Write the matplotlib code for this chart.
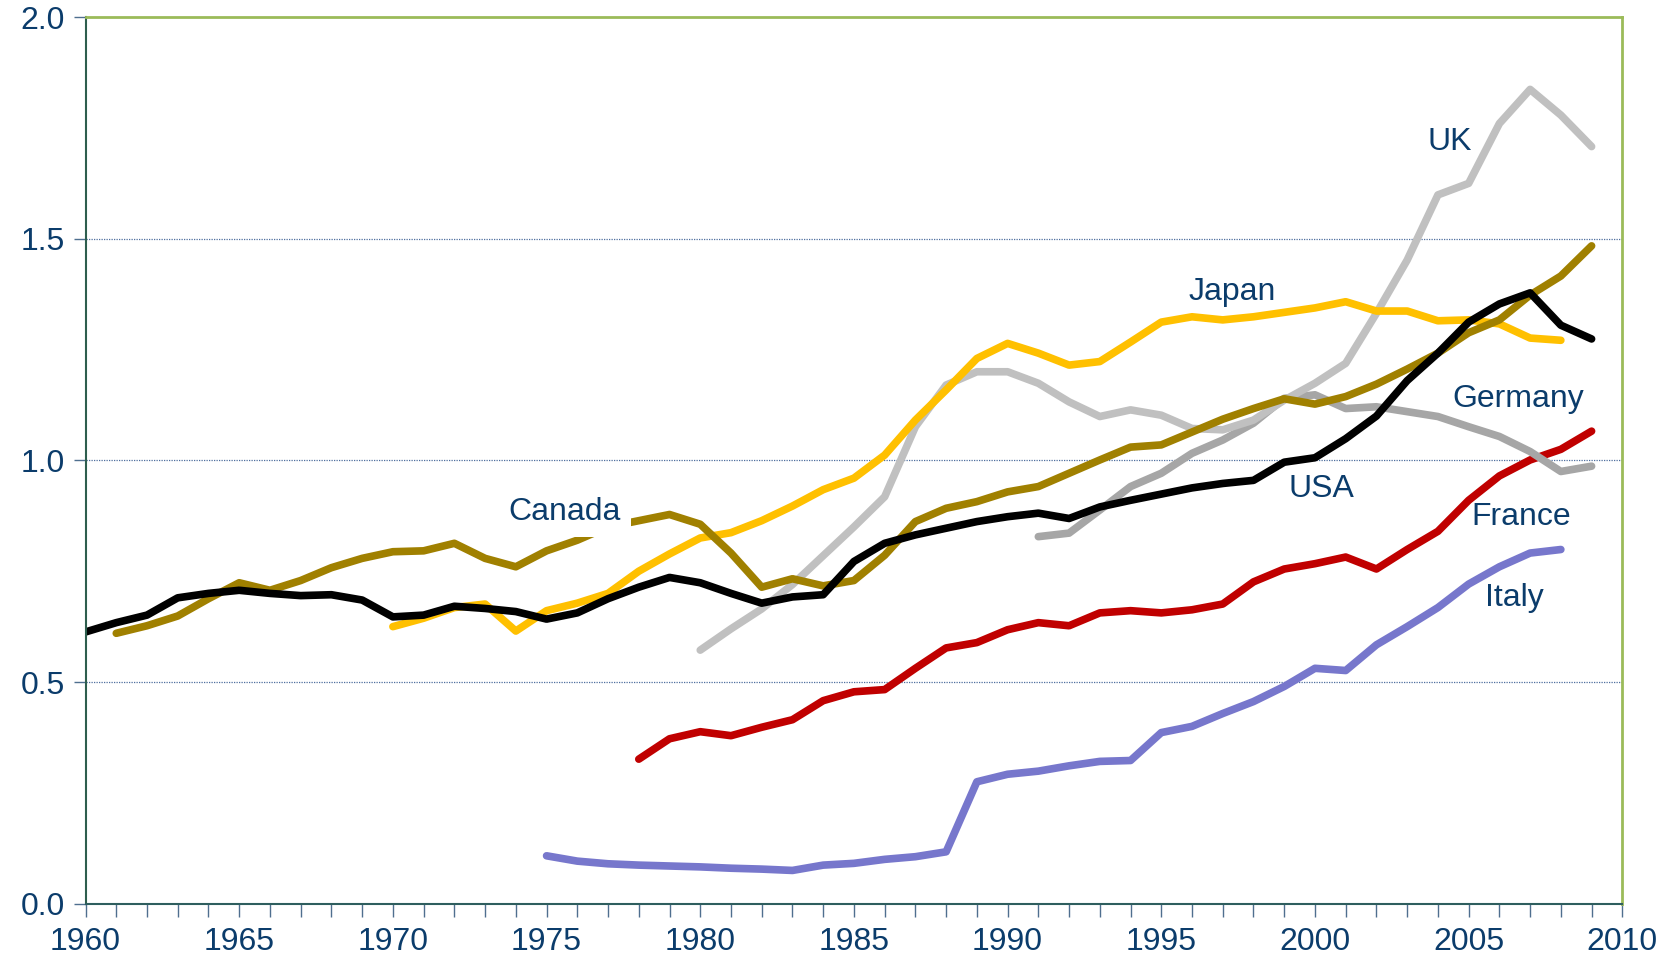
import numpy as np
import matplotlib.pyplot as plt
from matplotlib.ticker import MultipleLocator

plt.rcParams['font.family'] = ['Liberation Sans', 'DejaVu Sans']

# values
usa_years = list(range(1960, 2010))
usa = [0.613, 0.634, 0.651, 0.690, 0.700, 0.707, 0.700, 0.695, 0.697, 0.685,
       0.647, 0.651, 0.671, 0.666, 0.659, 0.642, 0.656, 0.688, 0.714, 0.736,
       0.724, 0.700, 0.678, 0.692, 0.697, 0.772, 0.813, 0.832, 0.847, 0.862,
       0.873, 0.881, 0.869, 0.895, 0.910, 0.924, 0.938, 0.948, 0.955, 0.996,
       1.006, 1.049, 1.100, 1.180, 1.242, 1.312, 1.353, 1.378, 1.305, 1.274]

canada_years = list(range(1961, 2010))
canada = [0.610, 0.627, 0.649, 0.688, 0.724, 0.707, 0.729, 0.758, 0.779,
          0.794, 0.796, 0.813, 0.779, 0.760, 0.796, 0.820, 0.850, 0.864, 0.878,
          0.856, 0.791, 0.714, 0.733, 0.717, 0.729, 0.786, 0.862, 0.892, 0.907,
          0.929, 0.941, 0.971, 1.001, 1.030, 1.035, 1.064, 1.093, 1.117, 1.139,
          1.127, 1.144, 1.172, 1.206, 1.242, 1.288, 1.317, 1.373, 1.416, 1.484]

japan_years = list(range(1970, 2009))
japan = [0.625, 0.644, 0.668, 0.676, 0.615, 0.661, 0.678, 0.700, 0.750, 0.789,
         0.825, 0.837, 0.864, 0.897, 0.934, 0.960, 1.012, 1.091, 1.159, 1.230,
         1.264, 1.242, 1.215, 1.223, 1.267, 1.312, 1.324, 1.317, 1.324, 1.334,
         1.344, 1.358, 1.337, 1.337, 1.315, 1.317, 1.308, 1.276, 1.271]

uk_years = list(range(1980, 2010))
uk = [0.572, 0.620, 0.665, 0.720, 0.785, 0.850, 0.918, 1.076, 1.170, 1.200,
      1.200, 1.174, 1.132, 1.099, 1.114, 1.102, 1.072, 1.069, 1.091, 1.136,
      1.174, 1.219, 1.332, 1.452, 1.599, 1.625, 1.760, 1.837, 1.779, 1.708]

germany_years = list(range(1991, 2010))
germany = [0.828, 0.836, 0.888, 0.941, 0.971, 1.016, 1.046, 1.084, 1.140,
           1.148, 1.117, 1.121, 1.110, 1.099, 1.076, 1.054, 1.020, 0.975, 0.987]

france_years = list(range(1978, 2010))
france = [0.326, 0.372, 0.388, 0.379, 0.398, 0.415, 0.458, 0.478, 0.483, 0.531,
          0.577, 0.589, 0.618, 0.634, 0.627, 0.656, 0.661, 0.656, 0.663, 0.676,
          0.726, 0.755, 0.767, 0.782, 0.755, 0.799, 0.840, 0.910, 0.965, 1.001,
          1.025, 1.066]

italy_years = list(range(1975, 2009))
italy = [0.108, 0.096, 0.090, 0.087, 0.085, 0.083, 0.080, 0.078, 0.075, 0.087,
         0.091, 0.100, 0.106, 0.117, 0.275, 0.292, 0.299, 0.311, 0.321, 0.323,
         0.386, 0.400, 0.429, 0.456, 0.490, 0.531, 0.526, 0.584, 0.625, 0.668,
         0.721, 0.760, 0.791, 0.799]

series = [
    (italy_years, italy, '#7777CC'),
    (france_years, france, '#C00000'),
    (germany_years, germany, '#A6A6A6'),
    (uk_years, uk, '#C0C0C0'),
    (japan_years, japan, '#FFC000'),
    (canada_years, canada, '#A08000'),
    (usa_years, usa, '#000000'),
]

labels = [
    ('Canada', 1975.6, 0.883),
    ('Japan', 1997.3, 1.380),
    ('UK', 2004.4, 1.718),
    ('Germany', 2006.6, 1.139),
    ('USA', 2000.2, 0.936),
    ('France', 2006.7, 0.873),
    ('Italy', 2006.5, 0.690),
]

text_color = '#0B3C6B'

fig = plt.figure(figsize=(16.77, 9.63), dpi=100)
ax = fig.add_axes([0.051, 0.0616, 0.9164, 0.9206])

for yrs, vals, col in series:
    ax.plot(yrs, vals, color=col, lw=5.5, solid_capstyle='round',
            solid_joinstyle='round')

for name, x, y in labels:
    kw = {}
    if name == 'Canada':
        kw['bbox'] = dict(facecolor='white', edgecolor='none', pad=7)
    ax.text(x, y, name, fontsize=23, color=text_color, ha='center',
            va='center', zorder=10, **kw)

ax.set_xlim(1960, 2010)
ax.set_ylim(0, 2.0)
ax.xaxis.set_major_locator(MultipleLocator(5))
ax.xaxis.set_minor_locator(MultipleLocator(1))
ax.yaxis.set_major_locator(MultipleLocator(0.5))
ax.yaxis.set_major_formatter(plt.FormatStrFormatter('%.1f'))

ax.tick_params(axis='both', which='both', direction='out', length=9,
               width=1, color='#4F6F8F', labelsize=23, labelcolor=text_color)
ax.tick_params(axis='x', pad=8)
ax.tick_params(axis='y', pad=6)

for y in [0.5, 1.0, 1.5]:
    ax.axhline(y, color='#4F6F9F', lw=0.9, ls=(0, (1, 1)), zorder=0)

ax.spines['left'].set_color('#2E5E4E')
ax.spines['bottom'].set_color('#2E5E5E')
ax.spines['left'].set_linewidth(1.5)
ax.spines['bottom'].set_linewidth(1.5)
ax.spines['top'].set_color('#9BBB59')
ax.spines['right'].set_color('#9BBB59')
ax.spines['top'].set_linewidth(2)
ax.spines['right'].set_linewidth(2)

fig.savefig('out.png', dpi=100)
